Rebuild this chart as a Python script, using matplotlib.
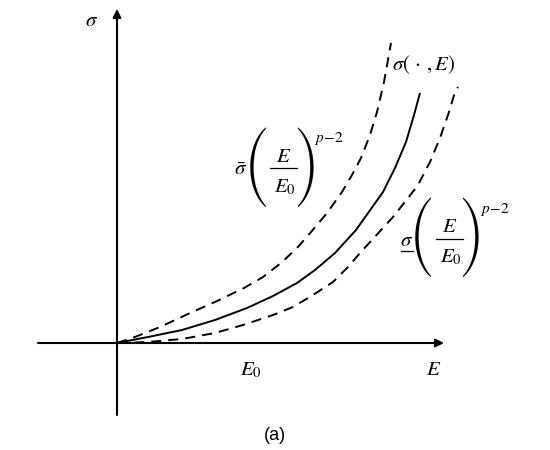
import matplotlib
matplotlib.use("Agg")
import matplotlib.pyplot as plt

plt.rcParams['mathtext.fontset'] = 'stix'
plt.rcParams['font.family'] = ['Liberation Sans', 'DejaVu Sans']

# Curve values (E offset, sigma offset from origin)
solid_E = [0, 31, 65, 98, 130, 156, 180, 198, 218, 239, 266, 278, 289, 297, 303]
solid_s = [0, 6, 13, 23, 35, 47, 60, 73, 90, 113, 151, 175, 201, 228, 250]

upper_E = [0, 18, 43, 71, 100, 127, 146, 164, 180, 194, 210, 225, 235, 244, 253, 260, 267, 274]
upper_s = [0, 6, 16, 29, 42, 55, 66, 80, 95, 111, 130, 151, 168, 185, 208, 231, 261, 300]

lower_E = [0, 31, 65, 98, 126, 156, 176, 196, 216, 231, 243, 276, 291, 301, 313, 323, 331, 338, 341]
lower_s = [0, 1, 4, 10, 18, 28, 36, 48, 61, 76, 90, 126, 145, 158, 181, 205, 228, 251, 256]

fig = plt.figure(figsize=(5.5, 4.5), dpi=100)
ax = fig.add_axes([0, 0, 1, 1])
ax.set_xlim(-117, 433)
ax.set_ylim(-107, 343)
ax.axis('off')

# axes with arrows
arrow = dict(arrowstyle='-|>', lw=1.5, color='k', mutation_scale=12, shrinkA=0, shrinkB=0)
ax.annotate('', xy=(327, 0), xytext=(-79, 0), arrowprops=arrow)
ax.annotate('', xy=(0, 334), xytext=(0, -72), arrowprops=arrow)

ax.plot(solid_E, solid_s, color='k', lw=1.4, solid_capstyle='butt')
ax.plot(upper_E, upper_s, color='k', lw=1.4, dashes=(5.2, 3.6))
ax.plot(lower_E, lower_s, color='k', lw=1.4, dashes=(5.2, 3.6))

fs = 15
PAREN_FONT = 'STIXSizeFourSym'
PAREN_SIZE = 18.5


def bracket_label(x0, y0, sigma_tex, underline=False):
    """x0, y0: centre of the left parenthesis (data units)."""
    ax.text(x0 - 16, y0 - 8, sigma_tex, fontsize=fs, ha='center', va='baseline')
    if underline:
        ax.plot([x0 - 22, x0 - 10], [y0 - 13, y0 - 13], color='k', lw=0.9)
    ax.text(x0, y0, '(', family=PAREN_FONT, fontsize=PAREN_SIZE, ha='center', va='center')
    ax.text(x0 + 48, y0, ')', family=PAREN_FONT, fontsize=PAREN_SIZE, ha='center', va='center')
    ax.plot([x0 + 13, x0 + 40], [y0 - 1, y0 - 1], color='k', lw=0.9)
    ax.text(x0 + 27, y0 + 5, r'$E$', fontsize=fs, ha='center', va='baseline')
    ax.text(x0 + 28, y0 - 25, r'$E_0$', fontsize=fs, ha='center', va='baseline')
    ax.text(x0 + 57, y0 + 25, r'$p\!-\!2$', fontsize=11, ha='left', va='baseline')


bracket_label(140, 176, r'$\bar{\sigma}$')
bracket_label(305.5, 105.5, r'$\sigma$', underline=True)

ax.text(-25, 323, r'$\sigma$', fontsize=fs, ha='center', va='center')
ax.text(307, 278, r'$\sigma(\,\cdot\,,E)$', fontsize=fs, ha='center', va='center')
ax.text(134, -32, r'$E_0$', fontsize=fs, ha='center', va='baseline')
ax.text(317, -32, r'$E$', fontsize=fs, ha='center', va='baseline')
ax.text(158, -92, '(a)', fontsize=13, ha='center', va='center')

fig.savefig('out.png', dpi=100)
